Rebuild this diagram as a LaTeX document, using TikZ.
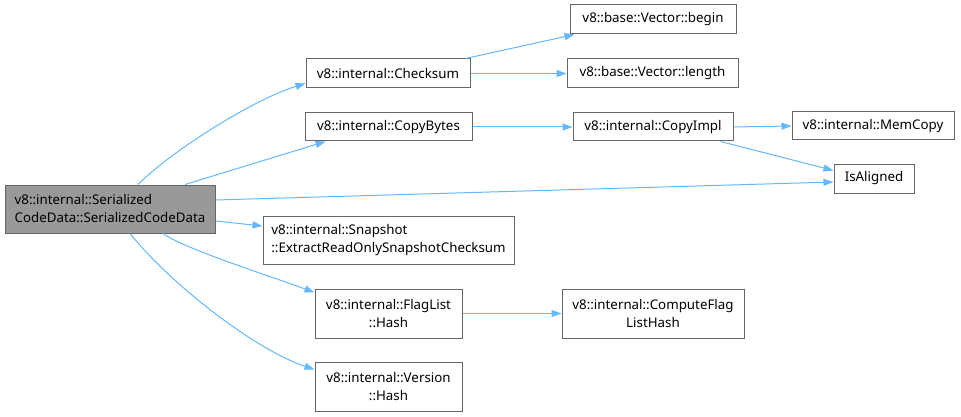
\documentclass[tikz,border=0pt]{standalone}
\usepackage{fontspec}
\setmainfont{Noto Sans}
\usetikzlibrary{arrows.meta}
\definecolor{edgeblue}{HTML}{63B8FF}
\definecolor{boxline}{HTML}{666666}
\definecolor{rootfill}{HTML}{999999}
\begin{document}
\begin{tikzpicture}[x=1pt,y=-1pt,font=\fontsize{13.33}{18}\selectfont,
  fn/.style={draw=boxline,fill=white,line width=1pt,inner sep=0pt,align=center},
  call/.style={draw=edgeblue,line width=1pt,-{Triangle[length=10pt,width=7pt]}}]
\useasboundingbox (0,0) rectangle (961,417);
\node[fn,fill=rootfill,align=left,minimum width=210pt,minimum height=48pt] (root) at (110,209) {v8::internal::Serialized\\CodeData::SerializedCodeData};
\node[fn,minimum width=164pt,minimum height=29pt] (checksum) at (388,73.5) {v8::internal::Checksum};
\node[fn,minimum width=167pt,minimum height=28pt] (copybytes) at (388.5,127) {v8::internal::CopyBytes};
\node[fn,minimum width=166pt,minimum height=29pt] (vbegin) at (653,19.5) {v8::base::Vector::begin};
\node[fn,minimum width=171pt,minimum height=29pt] (vlength) at (652.5,73.5) {v8::base::Vector::length};
\node[fn,minimum width=160pt,minimum height=28pt] (copyimpl) at (653,127) {v8::internal::CopyImpl};
\node[fn,minimum width=162pt,minimum height=28pt] (memcopy) at (873,126) {v8::internal::MemCopy};
\node[fn,minimum width=80pt,minimum height=29pt] (isaligned) at (874,178.5) {IsAligned};
\node[fn,align=left,minimum width=251pt,minimum height=48pt] (snapshot) at (388.5,240) {v8::internal::Snapshot\\::ExtractReadOnlySnapshotChecksum};
\node[fn,minimum width=147pt,minimum height=49pt] (flaglist) at (388.5,313.5) {v8::internal::FlagList\\::Hash};
\node[fn,minimum width=182pt,minimum height=49pt] (computeflag) at (653,313.5) {v8::internal::ComputeFlag\\ListHash};
\node[fn,minimum width=147pt,minimum height=49pt] (version) at (388.5,386.5) {v8::internal::Version\\::Hash};
\draw[call] ([xshift=28pt]root.north) .. controls +(35,-35) and +(-50,15) .. ([yshift=-10pt]checksum.west);
\draw[call] ([xshift=75pt]root.north) -- ([xshift=21pt]copybytes.south west);
\draw[call] ([yshift=9pt]root.east) -- ([yshift=-3.5pt]isaligned.west);
\draw[call] ([yshift=-12pt]root.east) -- ([yshift=14pt]snapshot.west);
\draw[call] ([xshift=53pt]root.south) .. controls +(20,15) and +(-40,-15) .. ([yshift=-4pt]flaglist.north west);
\draw[call] ([xshift=20pt]root.south) .. controls +(40,50) and +(-60,-20) .. ([yshift=-8pt]version.north west);
\draw[call] ([xshift=-5pt]checksum.north east) -- ([xshift=5pt]vbegin.south west);
\draw[call] (checksum.east) -- (vlength.west);
\draw[call] (copybytes.east) -- (copyimpl.west);
\draw[call] (copyimpl.east) -- (memcopy.west);
\draw[call] ([xshift=-13pt]copyimpl.south east) -- ([yshift=8pt]isaligned.west);
\draw[call] (flaglist.east) -- (computeflag.west);
\end{tikzpicture}
\end{document}
